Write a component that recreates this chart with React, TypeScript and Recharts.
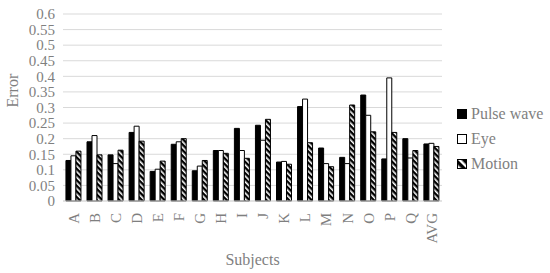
import { BarChart, Bar, XAxis, YAxis, CartesianGrid } from 'recharts';

const subjects = ['A', 'B', 'C', 'D', 'E', 'F', 'G', 'H', 'I', 'J', 'K', 'L', 'M', 'N', 'O', 'P', 'Q', 'AVG'];
const pulseWave = [0.13, 0.19, 0.148, 0.22, 0.095, 0.182, 0.097, 0.162, 0.233, 0.243, 0.125, 0.303, 0.17, 0.14, 0.34, 0.135, 0.2, 0.183];
const eye = [0.145, 0.21, 0.12, 0.24, 0.102, 0.19, 0.112, 0.162, 0.162, 0.195, 0.127, 0.327, 0.12, 0.12, 0.275, 0.395, 0.138, 0.185];
const motion = [0.16, 0.148, 0.163, 0.192, 0.128, 0.2, 0.13, 0.153, 0.137, 0.262, 0.118, 0.187, 0.11, 0.308, 0.222, 0.22, 0.162, 0.175];
const yTicks = [0, 0.05, 0.1, 0.15, 0.2, 0.25, 0.3, 0.35, 0.4, 0.45, 0.5, 0.55, 0.6];

const data = subjects.map((s, i) => ({ subject: s, pulse: pulseWave[i], eye: eye[i], motion: motion[i] }));

const FONT = '"Liberation Serif", serif';
const GREY = '#7f7f7f';

function SubjectTick(props: any) {
  const { x, y, payload } = props;
  return (
    <g transform={`translate(${x},${y + 4})`}>
      <text transform="rotate(-90)" textAnchor="end" dy="0.35em" fill={GREY} fontSize={15} fontFamily={FONT}>
        {payload.value}
      </text>
    </g>
  );
}

const legendItems = [
  { label: 'Pulse wave', fill: '#000' },
  { label: 'Eye', fill: '#fff' },
  { label: 'Motion', fill: 'url(#stripesLegend)' }
];

function MyLegend() {
  return (
    <div style={{ position: 'absolute', left: 457, top: 101, fontFamily: FONT, fontSize: 16, color: GREY }}>
      <svg width={0} height={0} style={{ position: 'absolute' }}>
        <defs>
          <pattern id="stripesLegend" patternUnits="userSpaceOnUse" width={6} height={6} patternTransform="rotate(-45)">
            <rect width={6} height={6} fill="#000" />
            <rect width={2.5} height={6} fill="#fff" />
          </pattern>
        </defs>
      </svg>
      {legendItems.map((it) => (
        <div key={it.label} style={{ display: 'flex', alignItems: 'center', height: 25, whiteSpace: 'nowrap' }}>
          <svg width={10} height={10} style={{ marginRight: 4 }}>
            <rect x={0.5} y={0.5} width={9} height={9} fill={it.fill} stroke="#000" />
          </svg>
          <span>{it.label}</span>
        </div>
      ))}
    </div>
  );
}

export default function App() {
  return (
    <div style={{ position: 'absolute', left: 0, top: 0, width: 550, height: 273, background: '#fff' }}>
      <BarChart width={550} height={273} data={data} margin={{ top: 14, right: 108, bottom: 0, left: 0 }} barCategoryGap="14%" barGap={0}>
        <defs>
          <pattern id="stripes" patternUnits="userSpaceOnUse" width={4} height={4} patternTransform="rotate(-45)">
            <rect width={4} height={4} fill="#000" />
            <rect width={1.6} height={4} fill="#fff" />
          </pattern>
        </defs>
        <CartesianGrid vertical={false} stroke="#d9d9d9" />
        <XAxis
          dataKey="subject"
          interval={0}
          tick={<SubjectTick />}
          tickLine={false}
          axisLine={{ stroke: '#d9d9d9' }}
          height={72}
          label={{ value: 'Subjects', position: 'insideBottom', offset: 8, fill: GREY, fontSize: 16, fontFamily: FONT }}
        />
        <YAxis
          domain={[0, 0.6]}
          ticks={yTicks}
          interval={0}
          tickLine={false}
          axisLine={false}
          width={63}
          tick={{ fill: GREY, fontSize: 15, fontFamily: FONT }}
          tickFormatter={(v: number) => String(+v.toFixed(2))}
          label={{ value: 'Error', angle: -90, position: 'insideLeft', offset: 12, fill: GREY, fontSize: 16, fontFamily: FONT }}
        />
        <Bar dataKey="pulse" name="Pulse wave" fill="#000" stroke="#000" isAnimationActive={false} />
        <Bar dataKey="eye" name="Eye" fill="#fff" stroke="#000" isAnimationActive={false} />
        <Bar dataKey="motion" name="Motion" fill="url(#stripes)" stroke="#000" isAnimationActive={false} />
      </BarChart>
      <MyLegend />
    </div>
  );
}
